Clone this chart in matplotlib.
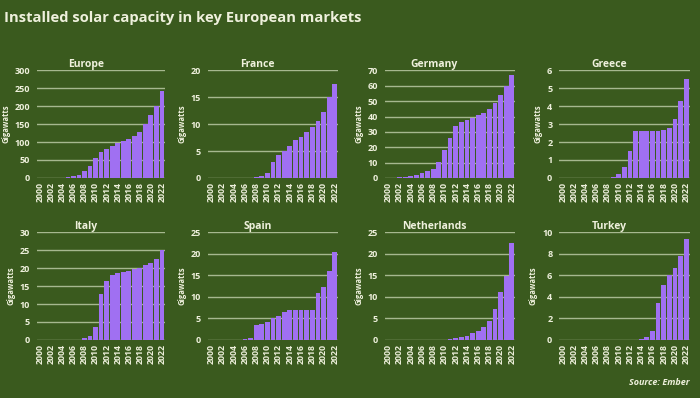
import numpy as np
import matplotlib
matplotlib.use("Agg")
import matplotlib.pyplot as plt

# data (GW, 2000..2022)
years = list(range(2000, 2023))
tick_years = list(range(2000, 2023, 2))

europe = [0.1, 0.2, 0.3, 0.5, 1, 2, 4, 9, 18, 32, 55, 72, 82, 90, 97, 103, 108, 116, 128, 150, 175, 200, 242]
france = [0, 0, 0, 0, 0, 0, 0, 0, 0.1, 0.3, 1.0, 3.0, 4.3, 5.0, 6.0, 7.0, 7.6, 8.5, 9.5, 10.5, 12.2, 15.0, 17.5]
germany = [0.1, 0.2, 0.3, 0.4, 1.1, 2.1, 2.9, 4.2, 6.1, 10.6, 18.0, 25.9, 34.0, 36.7, 37.9, 39.2, 40.7, 42.3, 45.2, 48.9, 53.7, 60.0, 67.0]
greece = [0, 0, 0, 0, 0, 0, 0, 0, 0, 0.05, 0.2, 0.6, 1.5, 2.6, 2.6, 2.6, 2.6, 2.6, 2.7, 2.8, 3.3, 4.3, 5.5]
italy = [0, 0, 0, 0, 0, 0, 0, 0.1, 0.4, 1.1, 3.5, 12.8, 16.4, 18.2, 18.6, 18.9, 19.3, 19.7, 20.1, 20.9, 21.6, 22.6, 25.0]
spain = [0, 0, 0, 0, 0, 0, 0.1, 0.5, 3.5, 3.6, 4.2, 5.0, 5.5, 6.6, 7.0, 7.0, 7.0, 7.0, 7.0, 11.0, 12.3, 16.0, 20.5]
netherlands = [0, 0, 0, 0, 0, 0, 0, 0, 0.05, 0.07, 0.09, 0.15, 0.4, 0.7, 1.0, 1.5, 2.1, 2.9, 4.4, 7.2, 11.1, 14.9, 22.6]
turkey = [0, 0, 0, 0, 0, 0, 0, 0, 0, 0, 0, 0, 0, 0, 0.04, 0.25, 0.8, 3.4, 5.1, 6.0, 6.7, 7.8, 9.4]

names = ["Europe", "France", "Germany", "Greece", "Italy", "Spain", "Netherlands", "Turkey"]
series = [europe, france, germany, greece, italy, spain, netherlands, turkey]
ymax = [300, 20, 70, 6, 30, 25, 25, 10]
ystep = [50, 5, 10, 1, 5, 5, 5, 2]

bg = "#3a5a1e"
bar_col = "#a070f2"
txt = "#eef0dc"
grid_col = "#c2d0ac"

plt.rcParams['font.family'] = ['Open Sans', 'DejaVu Sans']

fig = plt.figure(figsize=(7, 3.98), dpi=100, facecolor=bg)

lefts = [0.053, 0.297, 0.55, 0.799]
bottoms = [0.553, 0.146]
w, h = 0.186, 0.27

for i, (name, vals) in enumerate(zip(names, series)):
    r, c = divmod(i, 4)
    ax = fig.add_axes([lefts[c], bottoms[r], w if c else 0.183, h])
    ax.set_facecolor(bg)
    ax.bar(years, vals, width=0.85, color=bar_col, zorder=3)
    ax.set_ylim(0, ymax[i])
    ax.set_xlim(1999.4, 2022.6)
    ax.set_yticks(np.arange(0, ymax[i] + ystep[i] / 2, ystep[i]))
    ax.set_xticks(tick_years)
    ax.set_xticklabels([str(y) for y in tick_years], rotation=90, fontsize=6.3,
                       color=txt, fontweight="bold")
    ax.tick_params(axis="y", labelsize=6.5, labelcolor=txt, length=0, pad=5)
    for lab in ax.get_yticklabels():
        lab.set_fontweight("bold")
    ax.tick_params(axis="x", length=0, pad=3)
    ax.grid(axis="y", color=grid_col, linewidth=1.0, alpha=0.8, zorder=0)
    ax.set_axisbelow(True)
    for s in ax.spines.values():
        s.set_visible(False)
    ax.set_ylabel("Gigawatts", fontsize=5.5, color=txt, fontweight="bold", labelpad=3)
    ax.set_title(name, fontsize=7.5, color=txt, fontweight="bold", x=0.38, pad=0)

fig.text(0.006, 0.955, "Installed solar capacity in key European markets",
         fontsize=10.6, fontweight="bold", color=txt, va="center", ha="left")
fig.text(0.985, 0.04, "Source: Ember", fontsize=6.5, fontweight="bold",
         fontstyle="italic", color=txt, ha="right", va="center")

fig.savefig("out.png", dpi=100, facecolor=bg)
